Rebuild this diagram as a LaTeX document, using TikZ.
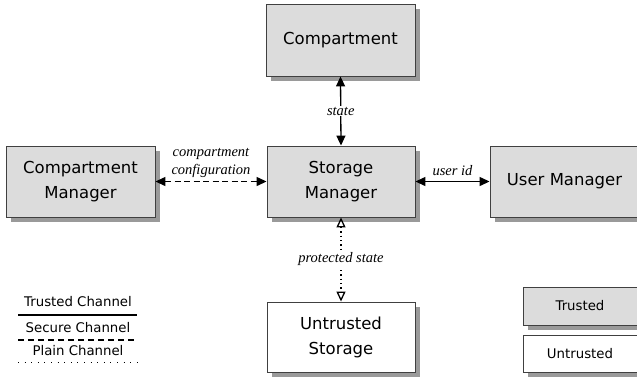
\documentclass[tikz,border=0pt]{standalone}
\usepackage{fontspec}
\setmainfont{DejaVu Sans}
\newfontfamily\labfont{Liberation Serif}
\usetikzlibrary{arrows.meta}
\definecolor{boxfill}{HTML}{DCDCDC}
\definecolor{shadowc}{HTML}{9A9A9A}
\definecolor{edgec}{HTML}{404040}
\tikzset{
  x=1pt,y=-1pt,
  base/.style={draw=edgec,line width=0.9pt,minimum width=148pt,minimum height=70pt,
    align=center,font=\fontsize{16.5}{25}\selectfont,inner sep=0pt},
  trustbox/.style={base,fill=boxfill},
  untrustbox/.style={base,fill=white},
  lab/.style={font=\labfont\itshape\fontsize{14.5}{18.5}\selectfont,align=center,inner sep=1pt},
  legtext/.style={font=\fontsize{13.3}{15}\selectfont,inner sep=0pt},
  conn/.style={line width=1.3pt,{Triangle[length=10pt,width=9pt]}-{Triangle[length=10pt,width=9pt]}},
  plainconn/.style={line width=1.3pt,{Triangle[open,length=10pt,width=9pt,line width=1.3pt]}-{Triangle[open,length=10pt,width=9pt,line width=1.3pt]}},
}
\begin{document}
\begin{tikzpicture}
\useasboundingbox (0,0) rectangle (637,376);
% shadows
\fill[shadowc] (271,9) rectangle (420,81);
\fill[shadowc] (11,151) rectangle (160,222);
\fill[shadowc] (272,151) rectangle (420,222);
\fill[shadowc] (495,151) rectangle (644,222);
\fill[shadowc] (272,307) rectangle (420,377);
\fill[shadowc] (528,292) rectangle (644,330);
\fill[shadowc] (528,340) rectangle (644,377);
% boxes
\node[trustbox,minimum width=149pt,minimum height=72pt] (comp) at (340.5,40) {Compartment};
\node[trustbox,minimum width=149pt,minimum height=71pt] (cm) at (80.5,181.5) {Compartment\\Manager};
\node[trustbox,minimum width=148pt,minimum height=71pt] (sm) at (341,181.5) {Storage\\Manager};
\node[trustbox,minimum width=149pt,minimum height=71pt] (um) at (564.5,181.5) {User Manager};
\node[untrustbox,minimum width=148pt,minimum height=70pt] (us) at (341,337) {Untrusted\\Storage};
% legend boxes
\node[trustbox,minimum width=120pt,minimum height=38pt,font=\fontsize{13.3}{15}\selectfont] (lt) at (583,306) {\hspace*{-6pt}Trusted};
\node[untrustbox,minimum width=120pt,minimum height=37pt,font=\fontsize{13.3}{15}\selectfont] (lu) at (583,353.5) {\hspace*{-6pt}Untrusted};
% connectors
\draw[conn] (comp.south) -- node[lab,fill=white] {state} (sm.north);
\draw[conn,dash pattern=on 6pt off 3.5pt] (cm.east) -- (sm.west)
  node[lab,midway,above=2pt] {compartment\\configuration};
\draw[conn] (sm.east) -- (um.west) node[lab,midway,above=4pt] {user id};
\draw[plainconn,dash pattern=on 1.3pt off 3pt] (sm.south) -- node[lab,fill=white] {protected state} (us.north);
% legend
\node[legtext] (t1) at (78,302) {Trusted Channel};
\coordinate (a1) at (18,315); \coordinate (b1) at (137,315);
\draw[line width=1.3pt] (a1) -- (b1);
\node[legtext] (t2) at (78,328) {Secure Channel};
\coordinate (a2) at (18,340); \coordinate (b2) at (137,340);
\draw[line width=1.3pt,dash pattern=on 6pt off 4pt] (a2) -- (b2);
\node[legtext] (t3) at (78,351) {Plain Channel};
\coordinate (a3) at (18,362); \coordinate (b3) at (137,362);
\draw[line width=1pt,dash pattern=on 1pt off 5.6pt] (a3) -- (b3);
\end{tikzpicture}
\end{document}
